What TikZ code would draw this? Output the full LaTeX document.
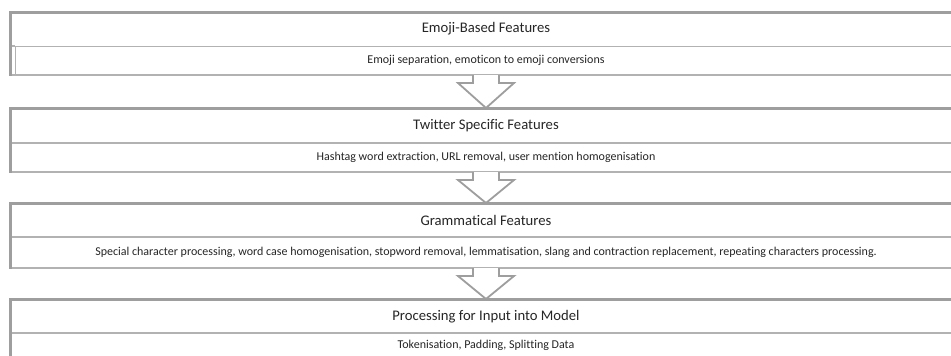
\documentclass[tikz,border=0pt]{standalone}
\usepackage{fontspec}
\setmainfont{Carlito}[Ligatures=NoCommon]
\usetikzlibrary{calc}
\definecolor{edgedark}{HTML}{9E9E9E}
\definecolor{edgelight}{HTML}{B2B2B2}
\definecolor{inkgray}{HTML}{262626}
\tikzset{
  boxarea/.style={minimum width=952pt, inner sep=0pt, outer sep=0pt},
  titletext/.style={font=\fontsize{14.67}{16}\selectfont, text=inkgray, inner sep=0pt},
  subtext/.style={font=\fontsize{12}{14}\selectfont, text=inkgray, inner sep=0pt},
  thickedge/.style={draw=edgedark, line width=3pt},
  thinedge/.style={draw=edgelight, line width=1.8pt},
  hollowarrow/.style={draw=edgedark, line width=1.8pt, fill=white, line join=miter}
}
\begin{document}
\begin{tikzpicture}[x=1pt,y=-1pt]
\useasboundingbox (0,0) rectangle (951,356);
\clip (0,0) rectangle (951,356);
\fill[white] (0,0) rectangle (951,356);
% box areas: top, divider, bottom
\node[boxarea, minimum height=63pt] (b1) at (486,43.5) {};
\node[boxarea, minimum height=64pt] (b2) at (486,140) {};
\node[boxarea, minimum height=65pt] (b3) at (486,235.5) {};
\node[boxarea, minimum height=66pt] (b4) at (486,332) {};
% box 1
\draw[thinedge] (10.5,75) -- (962,75);
\draw[draw=edgelight, line width=1pt] (962,46) -- (15.5,46) -- (15.5,74);
\draw[thickedge] (962,12) -- (10.5,12) -- (10.5,76);
\draw[thinedge] (12,46) -- (15,46);
% box 2
\draw[thinedge] (10.5,143) -- (962,143);
\draw[thinedge] (10.5,172) -- (962,172);
\draw[thickedge] (962,108) -- (10.5,108) -- (10.5,173);
% box 3
\draw[thinedge] (10.5,237) -- (962,237);
\draw[thinedge] (10.5,268) -- (962,268);
\draw[thickedge] (962,203) -- (10.5,203) -- (10.5,269);
% box 4
\draw[thinedge] (10.5,333) -- (962,333);
\draw[thickedge] (962,299.5) -- (10.5,299.5) -- (10.5,360);
% texts
\node[titletext] (t1) at (486,29) {Emoji-Based Features};
\node[subtext] (s1) at (486,60.5) {Emoji separation, emoticon to emoji conversions};
\node[titletext] (t2) at (486,125.5) {Twitter Specific Features};
\node[subtext] (s2) at (486,157.5) {Hashtag word extraction, URL removal, user mention homogenisation};
\node[titletext] (t3) at (486,220) {Grammatical Features};
\node[subtext] (s3) at (486,252.5) {Special character processing, word case homogenisation, stopword removal, lemmatisation, slang and contraction replacement, repeating characters processing.};
\node[titletext] (t4) at (486,316.5) {Processing for Input into Model};
\node[subtext] (s4) at (486,345.5) {Tokenisation, Padding, Splitting Data};
% hollow arrows between boxes
\foreach \a/\b in {b1/b2, b2/b3, b3/b4}{
  \draw[hollowarrow]
    ($(\a.south)+(-13,0)$) -- ($(\a.south)+(-13,8)$) -- ($(\a.south)+(-28,8)$)
    -- (\b.north)
    -- ($(\a.south)+(28,8)$) -- ($(\a.south)+(13,8)$) -- ($(\a.south)+(13,0)$);
}
\end{tikzpicture}
\end{document}
